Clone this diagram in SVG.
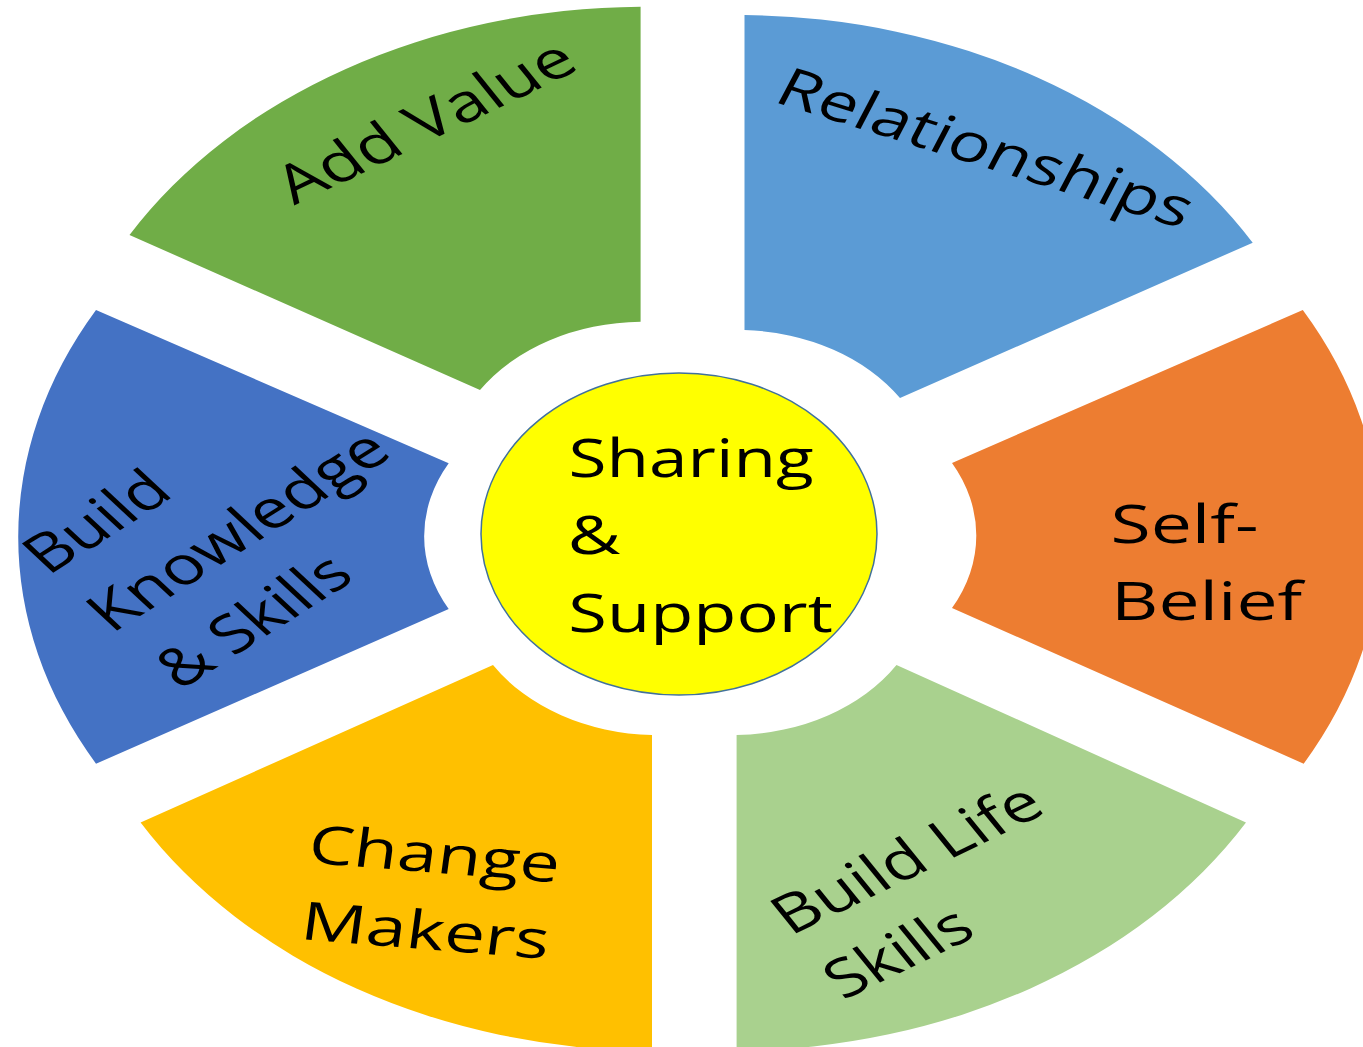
<svg xmlns="http://www.w3.org/2000/svg" width="1363" height="1047" viewBox="0 0 1363 1047">
  <style>
    .lbl { font-family: "Open Sans", "Noto Sans", "DejaVu Sans", sans-serif; font-size: 53px; fill: #000000; }
    .hub { fill: #FFFF00; stroke: #41719C; stroke-width: 1.5; }
  </style>

  <rect width="1363" height="1047" fill="#FFFFFF"/>

  <!-- the cycle has no connectors; segments are separated by gaps -->
  <g id="connectors"/>

  <!-- labels live in a frame stretched 1.3x horizontally, rotated to follow each segment -->
  <g id="node-add-value">
    <path fill="#70AD47" d="M 129.5,235 A 598 460 0 0 1 640.6,6.7 L 640.6,321.7 A 195 150 0 0 0 480,390 Z"/>
    <g transform="scale(1.3 1) rotate(-31.8)">
      <text class="lbl" x="84" y="294" textLength="260" lengthAdjust="spacingAndGlyphs">Add Value</text>
    </g>
  </g>

  <g id="node-relationships">
    <path fill="#5B9BD5" d="M 744.5,15 A 598 460 0 0 1 1252.7,242.7 L 900,398 A 195 150 0 0 0 744.5,330 Z"/>
    <g transform="scale(1.3 1) rotate(22)">
      <text class="lbl" x="588.6" y="-128.5" textLength="340" lengthAdjust="spacingAndGlyphs">Relationships</text>
    </g>
  </g>

  <g id="node-self-belief">
    <path fill="#ED7D31" d="M 1302.8,310 A 598 460 0 0 1 1303.7,763.7 L 952,608 A 195 150 0 0 0 952,463 Z"/>
    <g transform="scale(1.3 1)">
      <text class="lbl" x="854.2" y="543.3" textLength="114" lengthAdjust="spacingAndGlyphs">Self-</text>
      <text class="lbl" x="854.7" y="620" textLength="147" lengthAdjust="spacingAndGlyphs">Belief</text>
    </g>
  </g>

  <g id="node-build-life-skills">
    <path fill="#A9D18E" d="M 1246,822.5 A 598 460 0 0 1 736.6,1051 L 736.6,735 A 195 150 0 0 0 896.5,665 Z"/>
    <g transform="scale(1.3 1) rotate(-32)">
      <text class="lbl" x="19.7" y="1116" textLength="233.7" lengthAdjust="spacingAndGlyphs">Build Life</text>
      <text class="lbl" x="19.7" y="1192" textLength="123" lengthAdjust="spacingAndGlyphs">Skills</text>
    </g>
  </g>

  <g id="node-change-makers">
    <path fill="#FFC000" d="M 652,1051 A 598 460 0 0 1 140.6,822.5 L 493,665 A 195 150 0 0 0 652,735 Z"/>
    <g transform="scale(1.3 1) rotate(6)">
      <text class="lbl" x="324.9" y="833" textLength="194" lengthAdjust="spacingAndGlyphs">Change</text>
      <text class="lbl" x="326.8" y="909.7" textLength="191.8" lengthAdjust="spacingAndGlyphs">Makers</text>
    </g>
  </g>

  <g id="node-build-knowledge">
    <path fill="#4472C4" d="M 96,763.7 A 598 460 0 0 1 96,310 L 448.7,463.3 A 195 150 0 0 0 448.7,609 Z"/>
    <g transform="scale(1.3 1) rotate(-39.5)">
      <text class="lbl" x="-338" y="468" textLength="127" lengthAdjust="spacingAndGlyphs">Build</text>
      <text class="lbl" x="-337" y="544" textLength="281.5" lengthAdjust="spacingAndGlyphs">Knowledge</text>
      <text class="lbl" x="-332.5" y="621" textLength="176" lengthAdjust="spacingAndGlyphs">&amp; Skills</text>
    </g>
  </g>

  <g id="node-sharing-support">
    <ellipse class="hub" cx="679" cy="534" rx="198" ry="161"/>
    <g transform="scale(1.3 1)">
      <text class="lbl" x="437.3" y="477.3" textLength="188.6" lengthAdjust="spacingAndGlyphs">Sharing</text>
      <text class="lbl" x="436.8" y="554" textLength="40.6" lengthAdjust="spacingAndGlyphs">&amp;</text>
      <text class="lbl" x="437.2" y="632.3" textLength="203.4" lengthAdjust="spacingAndGlyphs">Support</text>
    </g>
  </g>
</svg>
